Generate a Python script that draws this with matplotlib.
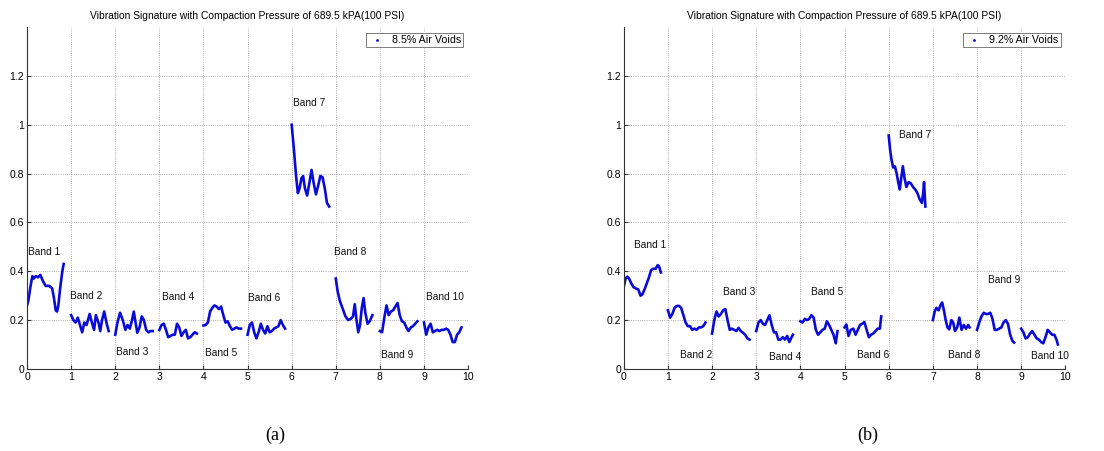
import matplotlib
matplotlib.use("Agg")
import matplotlib.pyplot as plt
from matplotlib.lines import Line2D

TITLE = "Vibration Signature with Compaction Pressure of 689.5 kPA(100 PSI)"
LINE_COLOR = "#0b0bd8"

# ---- panel (a): 8.5% air voids ----
a_x = [
    [0, 0.03, 0.08, 0.12, 0.15, 0.2, 0.25, 0.3, 0.36, 0.42, 0.5, 0.57, 0.61, 0.65, 0.68, 0.71, 0.75, 0.8, 0.83],
    [1.0, 1.05, 1.1, 1.15, 1.2, 1.25, 1.3, 1.35, 1.42, 1.47, 1.52, 1.56, 1.62, 1.66, 1.7, 1.75, 1.8, 1.85],
    [2.0, 2.05, 2.11, 2.17, 2.23, 2.28, 2.33, 2.38, 2.42, 2.46, 2.5, 2.55, 2.6, 2.65, 2.7, 2.75, 2.8, 2.85],
    [3.0, 3.05, 3.1, 3.15, 3.2, 3.25, 3.3, 3.35, 3.4, 3.45, 3.5, 3.55, 3.6, 3.65, 3.7, 3.75, 3.8, 3.85],
    [4.0, 4.05, 4.1, 4.15, 4.2, 4.25, 4.3, 4.35, 4.4, 4.45, 4.5, 4.55, 4.6, 4.65, 4.7, 4.75, 4.8, 4.85],
    [5.0, 5.05, 5.1, 5.15, 5.2, 5.25, 5.3, 5.35, 5.4, 5.45, 5.5, 5.55, 5.6, 5.65, 5.7, 5.75, 5.8, 5.85],
    [6.0, 6.05, 6.1, 6.14, 6.18, 6.22, 6.26, 6.3, 6.35, 6.4, 6.45, 6.5, 6.55, 6.6, 6.65, 6.7, 6.75, 6.8, 6.85],
    [7.0, 7.04, 7.09, 7.16, 7.22, 7.28, 7.34, 7.39, 7.43, 7.47, 7.51, 7.55, 7.59, 7.63, 7.67, 7.72, 7.77, 7.83],
    [8.0, 8.05, 8.1, 8.15, 8.2, 8.25, 8.3, 8.35, 8.4, 8.45, 8.5, 8.55, 8.6, 8.65, 8.7, 8.75, 8.8, 8.85],
    [9.0, 9.05, 9.1, 9.15, 9.2, 9.25, 9.3, 9.35, 9.4, 9.45, 9.5, 9.55, 9.6, 9.65, 9.7, 9.75, 9.8, 9.85],
]
a_y = [
    [0.26, 0.28, 0.34, 0.38, 0.37, 0.38, 0.375, 0.385, 0.36, 0.34, 0.34, 0.33, 0.29, 0.24, 0.235, 0.26, 0.33, 0.40, 0.43],
    [0.22, 0.2, 0.19, 0.21, 0.18, 0.15, 0.19, 0.18, 0.225, 0.19, 0.16, 0.22, 0.19, 0.155, 0.2, 0.235, 0.19, 0.155],
    [0.14, 0.19, 0.23, 0.2, 0.16, 0.18, 0.165, 0.2, 0.235, 0.19, 0.148, 0.17, 0.215, 0.2, 0.16, 0.15, 0.155, 0.155],
    [0.16, 0.18, 0.185, 0.16, 0.13, 0.135, 0.14, 0.14, 0.185, 0.17, 0.135, 0.15, 0.16, 0.125, 0.13, 0.14, 0.15, 0.145],
    [0.178, 0.18, 0.19, 0.235, 0.25, 0.26, 0.255, 0.245, 0.255, 0.22, 0.19, 0.195, 0.175, 0.16, 0.165, 0.17, 0.165, 0.165],
    [0.14, 0.18, 0.19, 0.15, 0.125, 0.15, 0.185, 0.16, 0.145, 0.175, 0.15, 0.155, 0.165, 0.17, 0.175, 0.2, 0.18, 0.165],
    [1.0, 0.9, 0.79, 0.72, 0.74, 0.78, 0.79, 0.74, 0.71, 0.76, 0.815, 0.76, 0.715, 0.75, 0.79, 0.785, 0.74, 0.68, 0.665],
    [0.37, 0.32, 0.28, 0.245, 0.215, 0.2, 0.205, 0.215, 0.265, 0.2, 0.15, 0.18, 0.25, 0.29, 0.23, 0.185, 0.195, 0.22],
    [0.155, 0.15, 0.21, 0.26, 0.22, 0.235, 0.24, 0.255, 0.27, 0.22, 0.195, 0.19, 0.17, 0.155, 0.17, 0.175, 0.185, 0.195],
    [0.19, 0.14, 0.17, 0.185, 0.15, 0.155, 0.16, 0.155, 0.16, 0.16, 0.165, 0.16, 0.14, 0.11, 0.11, 0.14, 0.15, 0.17],
]
a_label_pos = [(0.02, 0.48), (0.98, 0.30), (2.02, 0.068), (3.05, 0.295), (4.04, 0.064),
               (5.02, 0.292), (6.02, 1.09), (6.97, 0.48), (8.02, 0.055), (9.04, 0.295)]

# ---- panel (b): 9.2% air voids ----
b_x = [
    [0, 0.04, 0.08, 0.12, 0.17, 0.22, 0.27, 0.33, 0.38, 0.42, 0.47, 0.52, 0.57, 0.62, 0.67, 0.72, 0.77, 0.8, 0.84],
    [1.0, 1.05, 1.1, 1.15, 1.2, 1.25, 1.3, 1.35, 1.4, 1.45, 1.5, 1.55, 1.6, 1.65, 1.7, 1.75, 1.8, 1.85],
    [2.0, 2.05, 2.1, 2.15, 2.2, 2.25, 2.3, 2.35, 2.4, 2.45, 2.5, 2.55, 2.6, 2.65, 2.7, 2.75, 2.8, 2.85],
    [3.0, 3.05, 3.1, 3.15, 3.2, 3.25, 3.3, 3.35, 3.4, 3.45, 3.5, 3.55, 3.6, 3.65, 3.7, 3.75, 3.8, 3.83],
    [4.0, 4.05, 4.1, 4.15, 4.2, 4.25, 4.3, 4.35, 4.4, 4.45, 4.5, 4.55, 4.6, 4.65, 4.7, 4.75, 4.8, 4.84],
    [5.0, 5.04, 5.09, 5.14, 5.2, 5.25, 5.3, 5.35, 5.4, 5.45, 5.5, 5.55, 5.6, 5.65, 5.7, 5.75, 5.8, 5.83],
    [6.0, 6.03, 6.06, 6.1, 6.14, 6.18, 6.22, 6.25, 6.29, 6.32, 6.36, 6.4, 6.45, 6.5, 6.55, 6.6, 6.65, 6.7, 6.75, 6.78, 6.8, 6.83],
    [7.0, 7.04, 7.08, 7.13, 7.17, 7.21, 7.25, 7.29, 7.33, 7.37, 7.42, 7.46, 7.5, 7.55, 7.6, 7.65, 7.7, 7.75, 7.8, 7.83],
    [8.0, 8.05, 8.1, 8.15, 8.2, 8.25, 8.3, 8.35, 8.4, 8.45, 8.5, 8.55, 8.6, 8.65, 8.7, 8.75, 8.8, 8.84],
    [9.0, 9.05, 9.1, 9.15, 9.2, 9.25, 9.3, 9.35, 9.4, 9.45, 9.5, 9.55, 9.6, 9.65, 9.7, 9.75, 9.8, 9.83],
]
b_y = [
    [0.335, 0.37, 0.378, 0.37, 0.35, 0.335, 0.33, 0.325, 0.3, 0.305, 0.325, 0.35, 0.375, 0.405, 0.41, 0.41, 0.425, 0.42, 0.395],
    [0.24, 0.21, 0.225, 0.25, 0.258, 0.258, 0.25, 0.22, 0.19, 0.175, 0.175, 0.16, 0.165, 0.16, 0.17, 0.17, 0.175, 0.19],
    [0.145, 0.2, 0.235, 0.215, 0.225, 0.24, 0.245, 0.2, 0.16, 0.165, 0.16, 0.155, 0.168, 0.155, 0.148, 0.14, 0.125, 0.12],
    [0.155, 0.19, 0.2, 0.185, 0.18, 0.2, 0.22, 0.18, 0.15, 0.15, 0.12, 0.12, 0.13, 0.12, 0.135, 0.11, 0.13, 0.14],
    [0.195, 0.19, 0.205, 0.2, 0.205, 0.22, 0.21, 0.16, 0.14, 0.15, 0.16, 0.165, 0.195, 0.18, 0.16, 0.14, 0.105, 0.155],
    [0.17, 0.182, 0.135, 0.16, 0.165, 0.14, 0.16, 0.18, 0.185, 0.192, 0.16, 0.13, 0.14, 0.145, 0.155, 0.165, 0.165, 0.215],
    [0.956, 0.9, 0.86, 0.825, 0.83, 0.8, 0.76, 0.735, 0.79, 0.83, 0.78, 0.745, 0.765, 0.76, 0.745, 0.735, 0.72, 0.695, 0.68, 0.72, 0.765, 0.665],
    [0.2, 0.235, 0.25, 0.24, 0.26, 0.272, 0.24, 0.2, 0.17, 0.162, 0.2, 0.19, 0.155, 0.17, 0.21, 0.16, 0.18, 0.165, 0.18, 0.17],
    [0.16, 0.19, 0.215, 0.23, 0.225, 0.225, 0.23, 0.205, 0.16, 0.16, 0.165, 0.17, 0.19, 0.2, 0.185, 0.14, 0.115, 0.108],
    [0.165, 0.15, 0.125, 0.13, 0.145, 0.155, 0.14, 0.125, 0.12, 0.11, 0.105, 0.13, 0.16, 0.15, 0.14, 0.14, 0.12, 0.1],
]
b_label_pos = [(0.24, 0.507), (1.27, 0.056), (2.25, 0.316), (3.29, 0.05), (4.25, 0.314),
               (5.28, 0.056), (6.23, 0.956), (7.34, 0.056), (8.24, 0.363), (9.22, 0.052)]

band_names = ["Band %d" % (i + 1) for i in range(10)]
x_ticks = list(range(11))
y_ticks = [0, 0.2, 0.4, 0.6, 0.8, 1.0, 1.2]

plt.rcParams["font.family"] = ["Liberation Sans", "DejaVu Sans"]


def draw_panel(ax, xs, ys, label_pos, legend_text):
    for bx, by in zip(xs, ys):
        ax.plot(bx, by, color=LINE_COLOR, lw=1.9, solid_joinstyle="round")
    for name, (tx, ty) in zip(band_names, label_pos):
        ax.text(tx, ty, name, fontsize=7.3, va="center", ha="left", color="#111111")
    ax.set_xlim(0, 10)
    ax.set_ylim(0, 1.4)
    ax.set_xticks(x_ticks)
    ax.set_yticks(y_ticks)
    ax.set_yticklabels(["%g" % v for v in y_ticks])
    ax.tick_params(direction="in", length=3, labelsize=7.5, pad=2, color="#333333")
    ax.grid(True, ls=":", lw=0.6, color="#999999")
    ax.spines["top"].set_visible(False)
    ax.spines["right"].set_visible(False)
    for s in ("left", "bottom"):
        ax.spines[s].set_linewidth(0.8)
        ax.spines[s].set_color("#333333")
    ax.set_title(TITLE, fontsize=7.4, pad=6)
    handle = Line2D([], [], color=LINE_COLOR, marker=".", ls="none", markersize=2)
    leg = ax.legend([handle], [legend_text], loc="upper right", fontsize=7.7,
                    fancybox=False, framealpha=1, borderpad=0.2, borderaxespad=0,
                    handlelength=1.6, handletextpad=0.6,
                    bbox_to_anchor=(0.989, 0.982))
    leg.get_frame().set_edgecolor("#666666")
    leg.get_frame().set_linewidth(0.6)


fig = plt.figure(figsize=(11.04, 4.51), dpi=100)
ax_a = fig.add_axes([0.0245, 0.182, 0.3995, 0.758])
ax_b = fig.add_axes([0.565, 0.182, 0.4, 0.758])
draw_panel(ax_a, a_x, a_y, a_label_pos, "8.5% Air Voids")
draw_panel(ax_b, b_x, b_y, b_label_pos, "9.2% Air Voids")

fig.text(0.249, 0.035, "(a)", family="Liberation Serif", fontsize=13, ha="center", va="center")
fig.text(0.786, 0.035, "(b)", family="Liberation Serif", fontsize=13, ha="center", va="center")

fig.savefig("out.png", dpi=100)
